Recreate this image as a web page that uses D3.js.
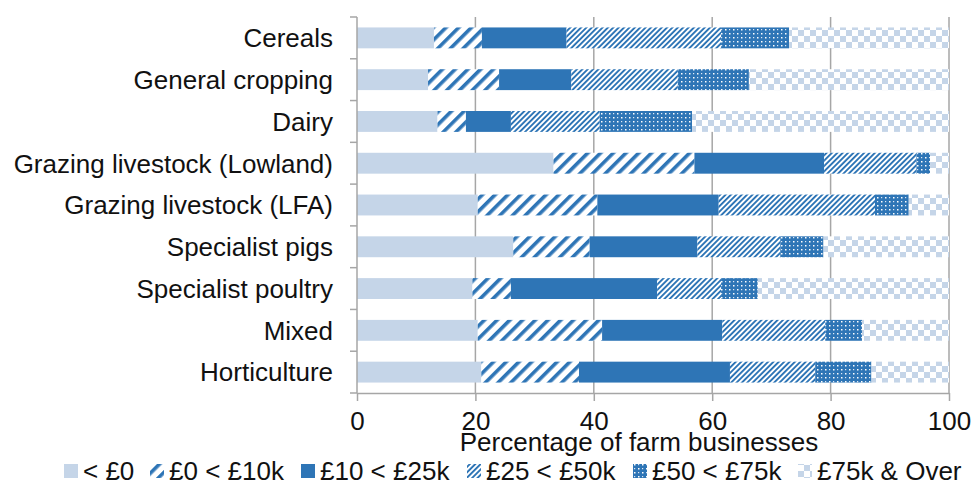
<!DOCTYPE html>
<html><head><meta charset="utf-8">
<script src="https://cdn.jsdelivr.net/npm/d3@7"></script>
<style>body{margin:0;background:#fff}text{font-family:"Liberation Sans",Arial,sans-serif;fill:#111}</style>
</head><body><svg id="c" width="975" height="492"></svg>
<script>
const categories = ["Cereals","General cropping","Dairy","Grazing livestock (Lowland)","Grazing livestock (LFA)","Specialist pigs","Specialist poultry","Mixed","Horticulture"];
const seriesNames = ["< £0","£0 < £10k","£10 < £25k","£25 < £50k","£50 < £75k","£75k & Over"];
const below0   = [13.0, 12.0, 13.6, 33.2, 20.4, 26.4, 19.5, 20.4, 21.0];
const to10k    = [ 8.1, 12.0,  4.8, 23.8, 20.2, 12.9,  6.5, 21.0, 16.5];
const to25k    = [14.3, 12.2,  7.6, 21.9, 20.5, 18.2, 24.7, 20.3, 25.5];
const to50k    = [26.1, 18.0, 15.0, 15.6, 26.4, 14.0, 10.8, 17.4, 14.4];
const to75k    = [11.5, 12.0, 15.6,  2.3,  5.7,  7.3,  6.2,  6.2,  9.5];
const over75k  = [27.0, 33.8, 43.4,  3.2,  6.8, 21.2, 32.3, 14.7, 13.1];
const xTicks = [0,20,40,60,80,100];

const seriesVals = [below0,to10k,to25k,to50k,to75k,over75k];
const rows = categories.map((c,i)=>{const o={cat:c};seriesNames.forEach((s,j)=>o[s]=seriesVals[j][i]);return o;});
const stack = d3.stack().keys(seriesNames)(rows);

const svg = d3.select("#c");
const m = {l:357, r:949, t:17, b:393};
const FS = "26px";
const x = d3.scaleLinear().domain([0,100]).range([m.l,m.r]);
const y = d3.scaleBand().domain(categories).range([m.t,m.b]).paddingInner(0.5).paddingOuter(0.25);
const DARK="#2e75b6", LIGHT="#c5d5e8";

const defs = svg.append("defs");
// wide stripes
let p = defs.append("pattern").attr("id","p1").attr("patternUnits","userSpaceOnUse").attr("width",9).attr("height",9).attr("patternTransform","rotate(45)");
p.append("rect").attr("width",9).attr("height",9).attr("fill","#fff");
p.append("rect").attr("width",3.6).attr("height",9).attr("fill",DARK);
// fine stripes
p = defs.append("pattern").attr("id","p3").attr("patternUnits","userSpaceOnUse").attr("width",3.8).attr("height",3.8).attr("patternTransform","rotate(45)");
p.append("rect").attr("width",3.8).attr("height",3.8).attr("fill","#fff");
p.append("rect").attr("width",1.9).attr("height",3.8).attr("fill",DARK);
// dots
p = defs.append("pattern").attr("id","p4").attr("patternUnits","userSpaceOnUse").attr("width",8).attr("height",8);
p.append("rect").attr("width",8).attr("height",8).attr("fill",DARK);
[[1,1],[5,5]].forEach(([a,b])=>p.append("rect").attr("x",a).attr("y",b).attr("width",1.5).attr("height",1.5).attr("fill","#fff"));
[[5,1],[1,5]].forEach(([a,b])=>p.append("rect").attr("x",a).attr("y",b).attr("width",1.2).attr("height",1.2).attr("fill","#dfe9f5"));
// checker
p = defs.append("pattern").attr("id","p5").attr("patternUnits","userSpaceOnUse").attr("width",12).attr("height",12);
p.append("rect").attr("width",12).attr("height",12).attr("fill","#fff");
p.append("rect").attr("width",6).attr("height",6).attr("fill",LIGHT);
p.append("rect").attr("x",6).attr("y",6).attr("width",6).attr("height",6).attr("fill",LIGHT);
const fills = [LIGHT,"url(#p1)",DARK,"url(#p3)","url(#p4)","url(#p5)"];

// gridlines
svg.append("g").selectAll("line").data(xTicks.slice(1)).join("line")
  .attr("x1",d=>x(d)).attr("x2",d=>x(d)).attr("y1",m.t).attr("y2",m.b)
  .attr("stroke","#a6a6a6").attr("stroke-width",1.5);

// bars
svg.append("g").selectAll("g").data(stack).join("g").attr("fill",(d,i)=>fills[i])
  .selectAll("rect").data(d=>d).join("rect")
  .attr("x",d=>x(d[0])).attr("width",d=>x(d[1])-x(d[0]))
  .attr("y",d=>y(d.data.cat)).attr("height",y.bandwidth());

// bottom axis
const xa = svg.append("g").attr("transform",`translate(0,${m.b})`)
  .call(d3.axisBottom(x).tickValues(xTicks).tickSize(8).tickSizeOuter(0).tickPadding(11));
xa.select(".domain").attr("stroke","#a6a6a6").attr("stroke-width",1.5);
xa.selectAll(".tick line").attr("stroke","#a6a6a6").attr("stroke-width",1.5);
xa.selectAll("text").style("font-size",FS).attr("fill","#111").attr("font-family","Liberation Sans, Arial, sans-serif");

// left axis (ticks at band boundaries)
const step = y.step();
const bounds = categories.map(c=>y(c)-step*y.paddingInner()/2).concat([m.b]);
svg.append("line").attr("x1",m.l).attr("x2",m.l).attr("y1",m.t).attr("y2",m.b).attr("stroke","#a6a6a6").attr("stroke-width",1.5);
svg.append("g").selectAll("line").data(bounds).join("line")
  .attr("x1",m.l-7).attr("x2",m.l).attr("y1",d=>d).attr("y2",d=>d).attr("stroke","#a6a6a6").attr("stroke-width",1.5);
svg.append("g").selectAll("text").data(categories).join("text")
  .attr("x",m.l-24).attr("y",d=>y(d)+y.bandwidth()/2).attr("dy","0.36em")
  .attr("text-anchor","end").style("font-size",FS).text(d=>d);

// axis title
svg.append("text").attr("x",(m.l+m.r)/2-14).attr("y",451).attr("text-anchor","middle").style("font-size",FS).text("Percentage of farm businesses");

// legend
const legX = [64,150,301,467,633,798];
const leg = svg.append("g").selectAll("g").data(seriesNames).join("g").attr("transform",(d,i)=>`translate(${legX[i]},471)`);
leg.append("rect").attr("x",0).attr("y",-7).attr("width",14).attr("height",14).attr("fill",(d,i)=>fills[i]);
leg.append("text").attr("x",19).attr("y",0).attr("dy","0.36em").style("font-size",FS).text(d=>d);
</script></body></html>
